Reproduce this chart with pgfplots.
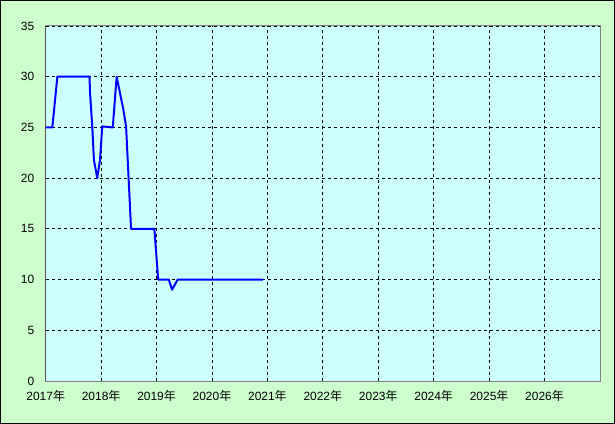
\documentclass[border=0pt]{standalone}
\usepackage{pgfplots}
\pgfplotsset{compat=1.18}
\usepackage{fontspec}
\setmainfont{Liberation Sans}
\newfontfamily\cjk{Noto Sans CJK JP}
\definecolor{outerbg}{RGB}{204,255,204}
\definecolor{plotbg}{RGB}{204,255,255}
\begin{document}
\begin{tikzpicture}
\useasboundingbox (-45.7bp,-43bp) rectangle (569.3bp,381bp);
\fill[outerbg] (-45.7bp,-43bp) rectangle (569.3bp,381bp);
\draw[black,line width=1bp] (-45.2bp,-42.5bp) rectangle (568.8bp,380.5bp);
\begin{axis}[
  at={(0,0)}, anchor=south west,
  scale only axis, width=554.3bp, height=355bp,
  xmin=2017, xmax=2027, ymin=0, ymax=35,
  xtick={2017,...,2026},
  xticklabels={2017{\cjk 年},2018{\cjk 年},2019{\cjk 年},2020{\cjk 年},2021{\cjk 年},2022{\cjk 年},2023{\cjk 年},2024{\cjk 年},2025{\cjk 年},2026{\cjk 年}},
  ytick={0,5,...,35},
  major tick length=0pt,
  grid=major,
  major grid style={black, dashed, line width=0.8bp, dash pattern=on 3bp off 3bp},
  axis background/.style={fill=plotbg},
  axis line style={gray, line width=1bp},
  /pgf/number format/assume math mode=true,
  ticklabel style={font=\fontsize{12}{14}\selectfont},
  yticklabel style={xshift=-8bp},
  xticklabel style={yshift=-6bp},
]
\addplot[blue, line width=2bp, line join=round] coordinates {
(2017.00,25)
(2017.12,25)
(2017.21,30)
(2017.79,30)
(2017.80,28.4)
(2017.84,25.1)
(2017.87,21.8)
(2017.93,20.0)
(2017.98,21.8)
(2018.02,25.1)
(2018.21,25)
(2018.28,30)
(2018.34,28.4)
(2018.40,26.8)
(2018.45,25.1)
(2018.54,15)
(2018.96,15)
(2019.03,10)
(2019.22,10)
(2019.28,9)
(2019.38,10)
(2020.92,10)
};
\draw[black, line width=1bp] (rel axis cs:0,1) -- (rel axis cs:0,0) -- (rel axis cs:1,0);
\end{axis}
\end{tikzpicture}
\end{document}
